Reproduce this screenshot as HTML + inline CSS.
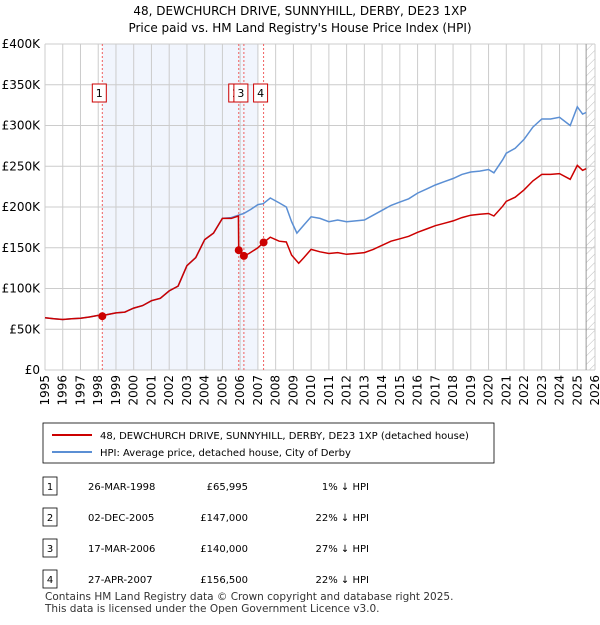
<!DOCTYPE html>
<html><head><meta charset="utf-8">
<style>
body{margin:0;background:#fff;font-family:"Liberation Sans",sans-serif;}
svg text{font-family:"DejaVu Sans","Liberation Sans",sans-serif;}
</style></head>
<body>
<svg id="c" width="600" height="620" xmlns="http://www.w3.org/2000/svg">
<defs><pattern id="hatch" width="6" height="6" patternUnits="userSpaceOnUse" patternTransform="rotate(45)"><line x1="0" y1="0" x2="0" y2="6" stroke="#bbb" stroke-width="1"/></pattern></defs>
<text x="300" y="15" text-anchor="middle" font-size="12">48, DEWCHURCH DRIVE, SUNNYHILL, DERBY, DE23 1XP</text>
<text x="300" y="32" text-anchor="middle" font-size="12">Price paid vs. HM Land Registry's House Price Index (HPI)</text>
<g id="plot"></g>
<rect x="43" y="423" width="451" height="40" fill="#fff" stroke="#000" stroke-width="0.8"/>
<line x1="52" y1="435" x2="92" y2="435" stroke="#cc0000" stroke-width="2"/>
<text x="100" y="439" font-size="10">48, DEWCHURCH DRIVE, SUNNYHILL, DERBY, DE23 1XP (detached house)</text>
<line x1="52" y1="452" x2="92" y2="452" stroke="#5b8fd4" stroke-width="2"/>
<text x="100" y="456" font-size="10">HPI: Average price, detached house, City of Derby</text>
<g id="table" font-size="10"></g>
<text x="45" y="600" font-size="10.5" fill="#333">Contains HM Land Registry data © Crown copyright and database right 2025.</text>
<text x="45" y="612" font-size="10.5" fill="#333">This data is licensed under the Open Government Licence v3.0.</text>
</svg>
<script>
const hpiYears=[1995,1995.5,1996,1996.5,1997,1997.5,1998,1998.5,1999,1999.5,2000,2000.5,2001,2001.5,2002,2002.5,2003,2003.5,2004,2004.5,2005,2005.5,2005.9,2006.2,2006.6,2007,2007.3,2007.7,2008.2,2008.6,2008.9,2009.2,2009.6,2010,2010.5,2011,2011.5,2012,2012.5,2013,2013.5,2014,2014.5,2015,2015.5,2016,2016.5,2017,2017.5,2018,2018.5,2019,2019.5,2020,2020.3,2020.8,2021,2021.5,2022,2022.5,2023,2023.5,2024,2024.6,2025,2025.3,2025.5];
const hpiValues=[64,63,62,63,63.5,65,67,68,70,71,76,79,85,88,97,103,128,138,160,168,186,187,190,192,197,203,204,211,205,200,182,168,178,188,186,182,184,182,183,184,190,196,202,206,210,217,222,227,231,235,240,243,244,246,242,258,266,272,283,298,308,308,310,300,323,314,316];
const redYears=[1995,1995.5,1996,1996.5,1997,1997.5,1998,1998.23,1998.5,1999,1999.5,2000,2000.5,2001,2001.5,2002,2002.5,2003,2003.5,2004,2004.5,2005,2005.5,2005.9,2005.92,2006.21,2006.5,2007,2007.32,2007.7,2008.2,2008.6,2008.9,2009.3,2009.6,2010,2010.5,2011,2011.5,2012,2012.5,2013,2013.5,2014,2014.5,2015,2015.5,2016,2016.5,2017,2017.5,2018,2018.5,2019,2019.5,2020,2020.3,2020.8,2021,2021.5,2022,2022.5,2023,2023.5,2024,2024.6,2025,2025.3,2025.5];
const redValues=[64,63,62,63,63.5,65,67,66,68,70,71,76,79,85,88,97,103,128,138,160,168,186,186,189,147,140,143,150,156.5,163,158,157,141,131,138,148,145,143,144,142,143,144,148,153,158,161,164,169,173,177,180,183,187,190,191,192,189,201,207,212,221,232,240,240,241,234,251,245,247];
const saleNums=["1","2","3","4"];
const saleYears=[1998.23,2005.92,2006.21,2007.32];
const salePrices=[65.995,147,140,156.5];
const saleDates=["26-MAR-1998","02-DEC-2005","17-MAR-2006","27-APR-2007"];
const salePriceLabels=["£65,995","£147,000","£140,000","£156,500"];
const saleHpiLabels=["1% ↓ HPI","22% ↓ HPI","27% ↓ HPI","22% ↓ HPI"];
const yTicks=[0,50,100,150,200,250,300,350,400];
const yTickLabels=["£0","£50K","£100K","£150K","£200K","£250K","£300K","£350K","£400K"];
const xTicks=[1995,1996,1997,1998,1999,2000,2001,2002,2003,2004,2005,2006,2007,2008,2009,2010,2011,2012,2013,2014,2015,2016,2017,2018,2019,2020,2021,2022,2023,2024,2025,2026];

const X0=45,X1=595,Y0=370,Y1=44;
const xs=y=>X0+(y-1995)/31*(X1-X0);
const ys=v=>Y0-v/400*(Y0-Y1);
const NS="http://www.w3.org/2000/svg";
const plot=document.getElementById('plot');
function mk(tag,attrs,parent){const e=document.createElementNS(NS,tag);for(const k in attrs)e.setAttribute(k,attrs[k]);(parent||plot).appendChild(e);return e;}

let e=mk('rect',{x:xs(1998.23),y:Y1,width:xs(2007)-xs(1998.23),height:Y0-Y1,fill:'#eef3fc',opacity:0.8});


e=mk('rect',{x:xs(2025.5),y:Y1,width:X1-xs(2025.5),height:Y0-Y1,fill:'url(#hatch)'});


yTicks.forEach((t,i)=>{
  let l=mk('line',{x1:X0,x2:X1,y1:ys(t),y2:ys(t),stroke:'#ccc','stroke-width':1});
  
  
  let tx=mk('text',{x:X0-5,y:ys(t)+4,'text-anchor':'end','font-size':12});
  tx.textContent=yTickLabels[i];
  
  
});
xTicks.forEach(t=>{
  let l=mk('line',{x1:xs(t),x2:xs(t),y1:Y1,y2:Y0,stroke:'#ccc','stroke-width':1});
  
  
  let tx=mk('text',{x:0,y:0,'text-anchor':'end','font-size':12,transform:`translate(${xs(t)+4},${Y0+5}) rotate(-90)`});
  tx.textContent=t;
  
  
});
e=mk('line',{x1:xs(2025.5),x2:xs(2025.5),y1:Y1,y2:Y0,stroke:'#999','stroke-width':1});


saleYears.forEach((y,i)=>{
  let l=mk('line',{x1:xs(y),x2:xs(y),y1:Y1,y2:Y0,stroke:'#f06060','stroke-width':1,'stroke-dasharray':'2,2'});
  
  
});
const path=(yrs,vals)=>yrs.map((y,i)=>(i?'L':'M')+xs(y).toFixed(1)+','+ys(vals[i]).toFixed(1)).join('');
e=mk('path',{d:path(hpiYears,hpiValues),fill:'none',stroke:'#5b8fd4','stroke-width':1.5});


e=mk('path',{d:path(redYears,redValues),fill:'none',stroke:'#cc0000','stroke-width':1.5});


saleYears.forEach((y,i)=>{
  let c=mk('circle',{cx:xs(y),cy:ys(salePrices[i]),r:4,fill:'#cc0000'});
  
  
});
saleYears.forEach((y,i)=>{
  const cx=xs(y)-3;
  let g=mk('g',{});
  
  
  mk('rect',{x:cx-7,y:84,width:14,height:18,fill:'#fff',stroke:'#cc0000','stroke-width':1},g);
  let t=mk('text',{x:cx,y:97,'text-anchor':'middle','font-size':11},g);
  t.textContent=saleNums[i];
});
const tbl=document.getElementById('table');
saleNums.forEach((n,i)=>{
  const yy=486+i*31;
  let g=mk('g',{},tbl);
  
  
  mk('rect',{x:43,y:yy-9,width:14,height:18,fill:'#fff',stroke:'#000','stroke-width':0.8},g);
  let t=mk('text',{x:50,y:yy+4,'text-anchor':'middle'},g);t.textContent=n;
  t=mk('text',{x:88,y:yy+4},g);t.textContent=saleDates[i];
  t=mk('text',{x:248,y:yy+4,'text-anchor':'end'},g);t.textContent=salePriceLabels[i];
  t=mk('text',{x:369,y:yy+4,'text-anchor':'end'},g);t.textContent=saleHpiLabels[i];
});
</script>
</body></html>
